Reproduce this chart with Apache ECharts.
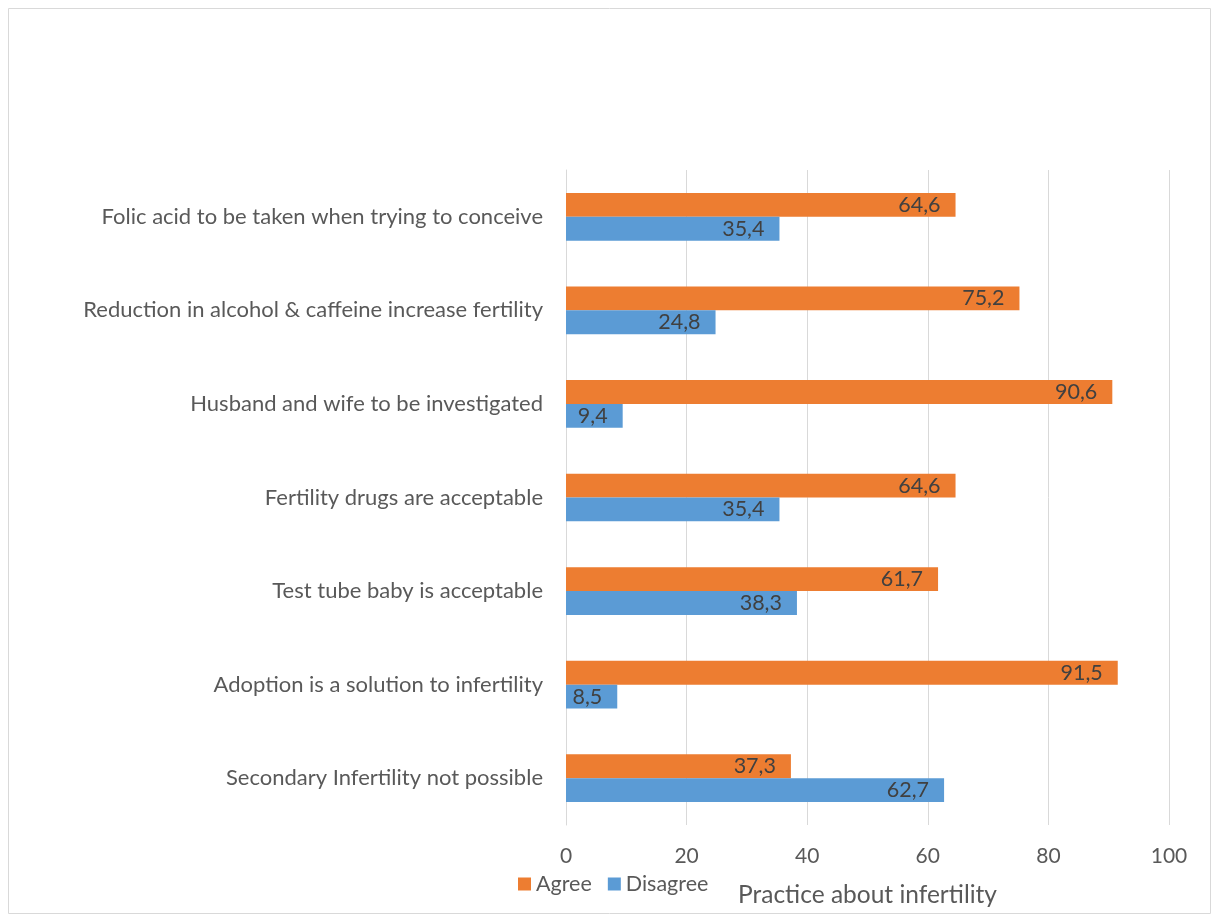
<!DOCTYPE html>
<html>
<head>
<meta charset="utf-8">
<script src="https://cdn.jsdelivr.net/npm/echarts@6/dist/echarts.min.js"></script>
<style>
  html, body { margin: 0; padding: 0; background: #fff; }
  #chart { width: 1218px; height: 919px; }
</style>
</head>
<body>
<div id="chart"></div>
<script>
// top to bottom as in the picture
var categories = [
  'Folic acid to be taken when trying to conceive',
  'Reduction in alcohol & caffeine increase fertility',
  'Husband and wife to be investigated',
  'Fertility drugs are acceptable',
  'Test tube baby is acceptable',
  'Adoption is a solution to infertility',
  'Secondary Infertility not possible'
];
var agree = [64.6, 75.2, 90.6, 64.6, 61.7, 91.5, 37.3];
var disagree = [35.4, 24.8, 9.4, 35.4, 38.3, 8.5, 62.7];
var xTicks = [0, 20, 40, 60, 80, 100];

var font = 'Lato, "Open Sans", sans-serif';

function labelFmt(p) {
  return String(p.value.toFixed(1)).replace('.', ',');
}

var chart = echarts.init(document.getElementById('chart'));
var option = {
  textStyle: { fontFamily: font },
  graphic: [{
    type: 'rect',
    shape: { x: 8.5, y: 8.5, width: 1202, height: 905 },
    style: { fill: 'none', stroke: '#d9d9d9', lineWidth: 1 }
  }],
  legend: {
    left: 513,
    top: 868,
    itemWidth: 13,
    itemHeight: 13,
    itemGap: 16,
    icon: 'rect',
    textStyle: { fontSize: 21.5, color: '#595959', fontFamily: font },
    data: ['Agree', 'Disagree']
  },
  grid: { left: 566, right: 49, top: 170, bottom: 94, containLabel: false },
  xAxis: {
    type: 'value',
    min: xTicks[0],
    max: xTicks[xTicks.length - 1],
    interval: 20,
    name: 'Practice about infertility',
    nameLocation: 'middle',
    nameGap: 58,
    nameTextStyle: { fontSize: 24.5, color: '#595959', fontFamily: font },
    axisLine: { show: false },
    axisTick: { show: false },
    axisLabel: { fontSize: 21, color: '#595959', margin: 21, fontFamily: font },
    splitLine: { lineStyle: { color: '#d9d9d9', width: 1 } }
  },
  yAxis: {
    type: 'category',
    inverse: true,
    data: categories,
    axisLine: { lineStyle: { color: '#d9d9d9' } },
    axisTick: { show: false },
    axisLabel: { fontSize: 22, color: '#595959', margin: 23, fontFamily: font }
  },
  series: [
    {
      name: 'Agree',
      type: 'bar',
      data: agree,
      barGap: '0%',
      barCategoryGap: '49%',
      itemStyle: { color: '#ed7d31' },
      label: { show: true, position: 'insideRight', distance: 15, fontSize: 21.5, color: '#404040', formatter: labelFmt, fontFamily: font }
    },
    {
      name: 'Disagree',
      type: 'bar',
      data: disagree,
      barGap: '0%',
      barCategoryGap: '49%',
      itemStyle: { color: '#5b9bd5' },
      label: { show: true, position: 'insideRight', distance: 15, fontSize: 21.5, color: '#404040', formatter: labelFmt, fontFamily: font }
    }
  ]
};
chart.setOption(option);
</script>
</body>
</html>
